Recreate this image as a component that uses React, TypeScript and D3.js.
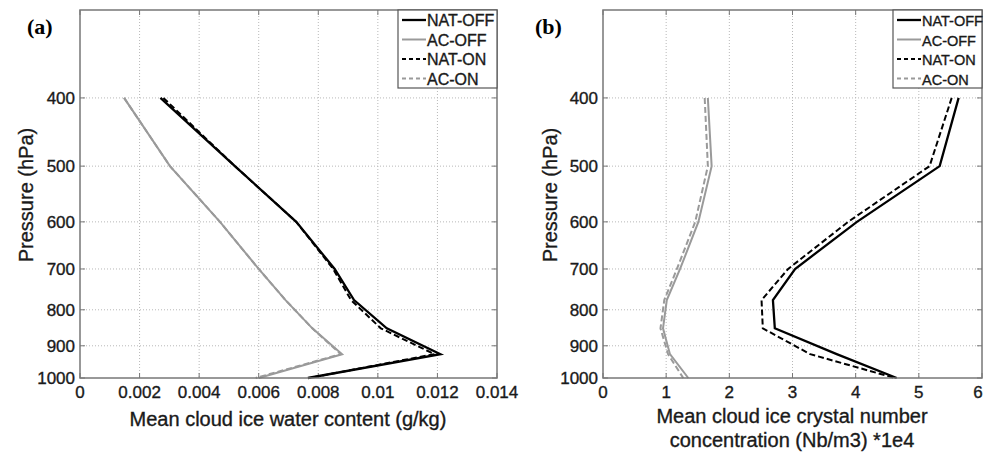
import { useEffect, useRef } from 'react';
import * as d3 from 'd3';

// pressure levels (hPa) where the profiles are given
const levels = [400, 500, 600, 700, 775, 850, 925, 1000];
const pressureTicks = [400, 500, 600, 700, 800, 900, 1000];

// panel (a): mean cloud ice water content (g/kg)
const natOffIwc = [0.0027, 0.0052, 0.00726, 0.00855, 0.0092, 0.0103, 0.0121, 0.00765];
const acOffIwc = [0.00148, 0.00302, 0.0047, 0.006, 0.0069, 0.0078, 0.0088, 0.006];
const natOnIwc = [0.0028, 0.0052, 0.00726, 0.0085, 0.0091, 0.0101, 0.0119, 0.0077];
const acOnIwc = [0.00148, 0.00302, 0.0047, 0.006, 0.0069, 0.0078, 0.00875, 0.0059];
const iwcTicks = [0, 0.002, 0.004, 0.006, 0.008, 0.01, 0.012, 0.014];

// panel (b): mean cloud ice crystal number concentration (*1e4)
const natOffNc = [5.63, 5.33, 4.02, 3.04, 2.69, 2.72, 3.7, 4.65];
const acOffNc = [1.66, 1.72, 1.51, 1.22, 1.01, 0.95, 1.06, 1.35];
const natOnNc = [5.52, 5.17, 3.88, 2.93, 2.51, 2.53, 3.28, 4.62];
const acOnNc = [1.61, 1.66, 1.46, 1.17, 0.97, 0.91, 1.03, 1.27];
const ncTicks = [0, 1, 2, 3, 4, 5, 6];

const seriesNames = ['NAT-OFF', 'AC-OFF', 'NAT-ON', 'AC-ON'];

const styles = [
  { color: '#000', width: 2.3, dash: null },
  { color: '#9a9a9a', width: 2, dash: null },
  { color: '#000', width: 2, dash: '6,3' },
  { color: '#9a9a9a', width: 2, dash: '6,3' },
];

const sans = 'Liberation Sans, Arial, sans-serif';

type Panel = {
  left: number;
  right: number;
  label: string;
  labelX: number;
  ylabelX: number;
  xmax: number;
  xticks: number[];
  tickFmt: (d: number) => string;
  series: number[][];
  xtitle: string[];
  xtitleX: number;
  legendX: number;
  legendFont: number;
};

const App = () => {
  const svgRef = useRef<SVGSVGElement>(null);

  useEffect(() => {
    if (!svgRef.current) return;
    const svg = d3.select(svgRef.current);
    svg.selectAll('*').remove();

    const top = 10;
    const bottom = 378;

    const y = d3.scaleLog().domain([300, 1000]).range([top, bottom]);

    const panels: Panel[] = [
      {
        left: 80, right: 497, label: '(a)', labelX: 27, ylabelX: 33,
        xmax: 0.014, xticks: iwcTicks, tickFmt: d => (d === 0 ? '0' : String(+d.toFixed(3))),
        series: [natOffIwc, acOffIwc, natOnIwc, acOnIwc],
        xtitle: ['Mean cloud ice water content (g/kg)'], xtitleX: 288,
        legendX: 398, legendFont: 16,
      },
      {
        left: 603, right: 982, label: '(b)', labelX: 535, ylabelX: 557,
        xmax: 6, xticks: ncTicks, tickFmt: d => String(d),
        series: [natOffNc, acOffNc, natOnNc, acOnNc],
        xtitle: ['Mean cloud ice crystal number', 'concentration (Nb/m3) *1e4'], xtitleX: 792,
        legendX: 893, legendFont: 14.5,
      },
    ];

    const textStyle = (sel: any, size: number) =>
      sel.style('font-family', sans).style('font-size', `${size}px`)
        .style('fill', '#1a1a1a').style('stroke', '#1a1a1a').style('stroke-width', 0.35);

    panels.forEach(p => {
      const x = d3.scaleLinear().domain([0, p.xmax]).range([p.left, p.right]);
      const g = svg.append('g');

      // grid
      g.selectAll('.gx')
        .data(p.xticks.slice(1, -1))
        .enter()
        .append('line')
        .attr('x1', d => x(d)).attr('x2', d => x(d))
        .attr('y1', top).attr('y2', bottom)
        .attr('stroke', '#b8b8b8').attr('stroke-width', 1)
        .attr('stroke-dasharray', '1,2');
      g.selectAll('.gy')
        .data(pressureTicks.slice(0, -1))
        .enter()
        .append('line')
        .attr('x1', p.left).attr('x2', p.right)
        .attr('y1', d => y(d)).attr('y2', d => y(d))
        .attr('stroke', '#b8b8b8').attr('stroke-width', 1)
        .attr('stroke-dasharray', '1,2');

      // inward ticks
      p.xticks.forEach(t => {
        g.append('line').attr('x1', x(t)).attr('x2', x(t)).attr('y1', bottom).attr('y2', bottom - 5)
          .attr('stroke', '#777');
        g.append('line').attr('x1', x(t)).attr('x2', x(t)).attr('y1', top).attr('y2', top + 5)
          .attr('stroke', '#777');
      });
      pressureTicks.forEach(t => {
        g.append('line').attr('x1', p.left).attr('x2', p.left + 5).attr('y1', y(t)).attr('y2', y(t))
          .attr('stroke', '#777');
        g.append('line').attr('x1', p.right).attr('x2', p.right - 5).attr('y1', y(t)).attr('y2', y(t))
          .attr('stroke', '#777');
      });

      // lines
      const line = d3.line<number>()
        .x(d => x(d))
        .y((_, i) => y(levels[i]));
      p.series.forEach((s, i) => {
        const st = styles[i];
        g.append('path')
          .datum(s)
          .attr('d', line)
          .attr('fill', 'none')
          .attr('stroke', st.color)
          .attr('stroke-width', st.width)
          .attr('stroke-dasharray', st.dash);
      });

      // frame
      g.append('rect')
        .attr('x', p.left).attr('y', top)
        .attr('width', p.right - p.left).attr('height', bottom - top)
        .attr('fill', 'none').attr('stroke', '#777').attr('stroke-width', 1.5);

      // tick labels
      textStyle(
        g.selectAll('.xl')
          .data(p.xticks)
          .enter()
          .append('text')
          .attr('x', d => Math.min(x(d), 978)).attr('y', 398)
          .attr('text-anchor', 'middle'),
        17
      ).text(d => p.tickFmt(d));
      textStyle(
        g.selectAll('.yl')
          .data(pressureTicks)
          .enter()
          .append('text')
          .attr('x', p.left - 5).attr('y', d => y(d) + 6)
          .attr('text-anchor', 'end'),
        17
      ).text(d => d);

      // axis titles
      textStyle(
        g.append('text')
          .attr('transform', `translate(${p.ylabelX},195) rotate(-90)`)
          .attr('text-anchor', 'middle'),
        20
      ).text('Pressure (hPa)');
      p.xtitle.forEach((t, i) => {
        textStyle(
          g.append('text')
            .attr('x', p.xtitleX).attr('y', (p.xtitle.length > 1 ? 423 : 426) + i * 24)
            .attr('text-anchor', 'middle'),
          20
        ).text(t);
      });

      // panel label
      g.append('text')
        .attr('x', p.labelX).attr('y', 34)
        .style('font-family', 'Liberation Serif, Times New Roman, serif')
        .style('font-size', '22px').style('font-weight', 'bold')
        .text(p.label);

      // legend
      const lg = g.append('g');
      lg.append('rect')
        .attr('x', p.legendX).attr('y', top)
        .attr('width', p.right - p.legendX).attr('height', 78)
        .attr('fill', '#fff').attr('stroke', '#555').attr('stroke-width', 1.2);
      seriesNames.forEach((name, i) => {
        const cy = top + 10 + i * 19.5;
        const st = styles[i];
        lg.append('line')
          .attr('x1', p.legendX + 4).attr('x2', p.legendX + 28)
          .attr('y1', cy).attr('y2', cy)
          .attr('stroke', st.color).attr('stroke-width', st.width)
          .attr('stroke-dasharray', st.dash ? '4,3' : null);
        textStyle(
          lg.append('text')
            .attr('x', p.legendX + 29).attr('y', cy + 6),
          p.legendFont
        ).text(name);
      });
    });
  }, []);

  return (
    <div style={{ position: 'absolute', left: 0, top: 0, background: '#fff' }}>
      <svg ref={svgRef} width={984} height={452} style={{ display: 'block' }}></svg>
    </div>
  );
};

export default App;
